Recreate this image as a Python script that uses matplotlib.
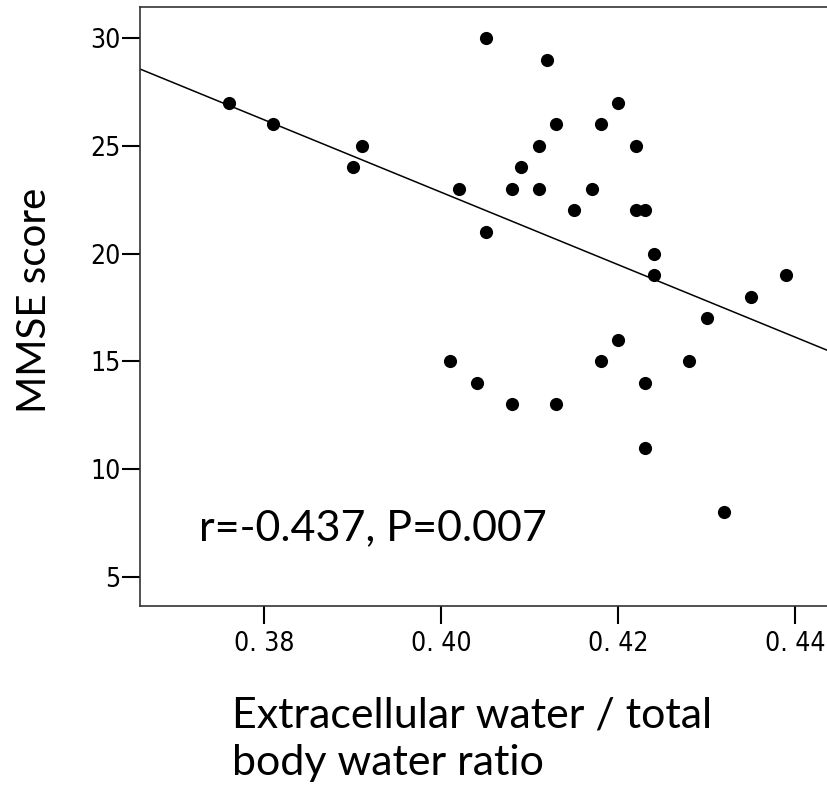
import matplotlib
matplotlib.use('Agg')
import matplotlib.pyplot as plt
import numpy as np

# ECW/TBW ratio vs MMSE score
ecw_ratio = [0.376, 0.381, 0.390, 0.391, 0.401, 0.402, 0.404, 0.405, 0.405, 0.408,
             0.408, 0.409, 0.411, 0.411, 0.412, 0.413, 0.413, 0.415, 0.417, 0.418,
             0.418, 0.420, 0.420, 0.422, 0.422, 0.423, 0.423, 0.423, 0.424, 0.424,
             0.428, 0.430, 0.432, 0.435, 0.439]
mmse = [27, 26, 24, 25, 15, 23, 14, 30, 21, 13,
        23, 24, 25, 23, 29, 26, 13, 22, 23, 26,
        15, 27, 16, 25, 22, 22, 14, 11, 20, 19,
        15, 17, 8, 18, 19]

x_ticks = [0.38, 0.40, 0.42, 0.44]
x_tick_labels = ['0. 38', '0. 40', '0. 42', '0. 44']
y_ticks = [5, 10, 15, 20, 25, 30]

label_font = ['Lato', 'DejaVu Sans']

W, H = 828, 785
fig = plt.figure(figsize=(W / 100, H / 100), dpi=100)
ax = fig.add_axes([140 / W, 1 - 606 / H, 688 / W, 599 / H])

ax.scatter(ecw_ratio, mmse, s=90, color='black', zorder=3, linewidths=0)

xlim = (0.36595, 0.4437)
slope, intercept = np.polyfit(ecw_ratio, mmse, 1)
xs = np.array(xlim)
ax.plot(xs, slope * xs + intercept, color='black', linewidth=1.1)

ax.set_xlim(xlim)
ax.set_ylim(3.65, 31.44)

ax.set_xticks(x_ticks)
ax.set_xticklabels(x_tick_labels, family='DejaVu Sans', fontstretch='condensed', fontsize=19)
ax.set_yticks(y_ticks)
ax.set_yticklabels([str(v) for v in y_ticks], family='DejaVu Sans', fontstretch='condensed', fontsize=19)
ax.tick_params(axis='x', length=13, width=1.5, pad=5)
ax.tick_params(axis='y', length=13, width=1.5, pad=1)

ax.spines['right'].set_visible(False)
for side in ['left', 'top', 'bottom']:
    ax.spines[side].set_color('#333333')
    ax.spines[side].set_linewidth(1.2)

ax.text(199 / W, 1 - 540 / H, 'r=-0.437, P=0.007', transform=fig.transFigure,
        family=label_font, fontsize=31, ha='left', va='baseline')

fig.text(35 / W, 1 - 300 / H, 'MMSE score', rotation=90, family=label_font,
         fontsize=29, ha='center', va='center')
fig.text(232 / W, 1 - 727 / H, 'Extracellular water / total', family=label_font,
         fontsize=31, ha='left', va='baseline')
fig.text(232 / W, 1 - 775 / H, 'body water ratio', family=label_font,
         fontsize=31, ha='left', va='baseline')

fig.savefig('out.png', dpi=100)
